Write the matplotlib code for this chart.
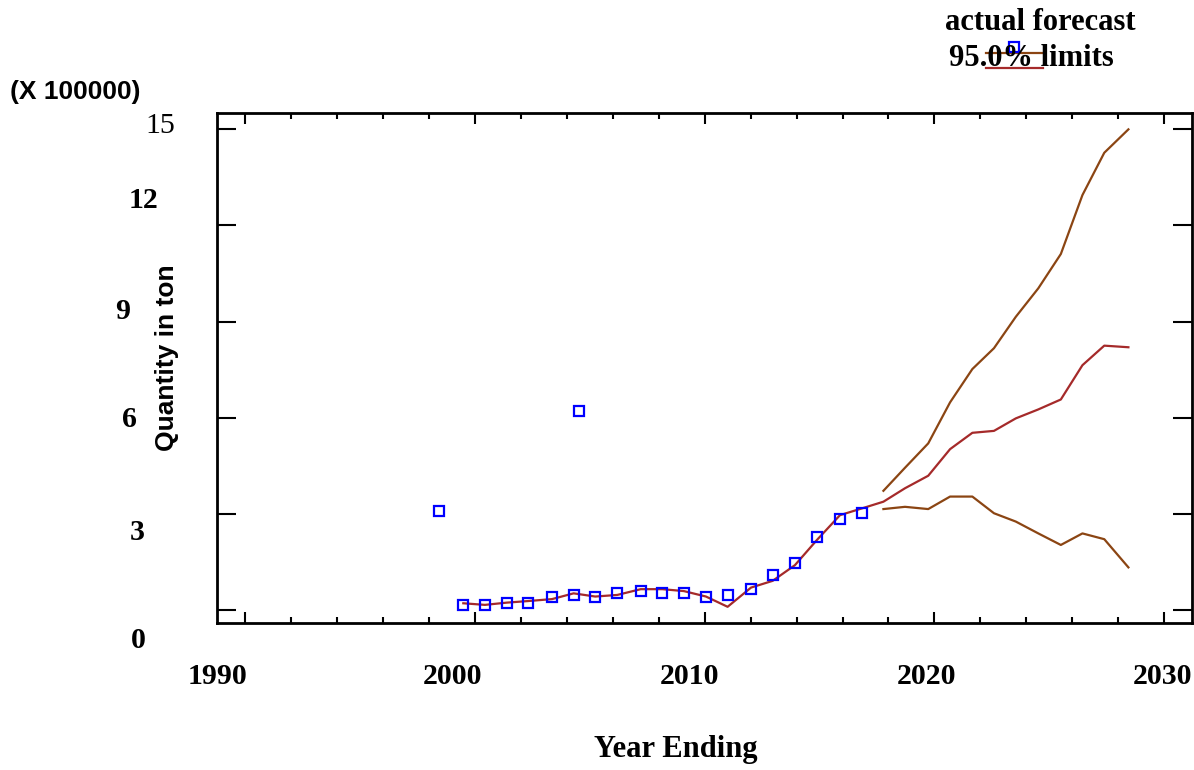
import matplotlib
matplotlib.use("Agg")
import matplotlib.pyplot as plt
from matplotlib.lines import Line2D
from matplotlib.ticker import MultipleLocator

# ---- data (units of 100000 ton) ----
hist_years = [1999.50, 2000.44, 2001.39, 2002.33, 2003.36, 2004.30, 2005.24, 2006.20,
              2007.22, 2008.16, 2009.10, 2010.06, 2011.00, 2012.02, 2012.96, 2013.93,
              2014.88, 2015.89, 2016.84]
actual = [0.16, 0.16, 0.21, 0.21, 0.42, 0.47, 0.42, 0.52, 0.59, 0.54, 0.54, 0.42,
          0.47, 0.66, 1.09, 1.46, 2.29, 2.85, 3.04]
fitted = [0.21, 0.16, 0.23, 0.28, 0.34, 0.52, 0.42, 0.47, 0.65, 0.65, 0.59, 0.42,
          0.10, 0.70, 0.91, 1.40, 2.18, 2.96, 3.17]
extra_years = [1998.44, 2004.53]
extra_actual = [3.10, 6.22]

fc_years = [2017.78, 2018.72, 2019.73, 2020.68, 2021.65, 2022.59, 2023.54, 2024.52,
            2025.50, 2026.44, 2027.39, 2028.44]
forecast = [3.38, 3.80, 4.19, 5.02, 5.53, 5.59, 5.98, 6.26, 6.57, 7.64, 8.25, 8.20]
upper = [3.72, 4.44, 5.20, 6.48, 7.52, 8.17, 9.15, 10.04, 11.11, 12.95, 14.27, 15.00]
lower = [3.15, 3.22, 3.15, 3.54, 3.54, 3.02, 2.76, 2.39, 2.03, 2.39, 2.21, 1.33]

x_tick_labels = ["1990", "2000", "2010", "2020", "2030"]
y_tick_labels = ["15", "12", "9", "6", "3", "0"]

BLUE = "#0000ff"
RED = "#a52a2a"
BROWN = "#8b4513"
SERIF = "Liberation Serif"
SANS = "Liberation Sans"

W, H = 1194, 770
fig = plt.figure(figsize=(W / 100, H / 100), dpi=100)
ax = fig.add_axes([216.7 / W, 1 - 623.3 / H, (1192.3 - 216.7) / W, (623.3 - 112.7) / H])

ax.plot(hist_years + fc_years, fitted + forecast, color=RED, lw=1.6, zorder=2)
ax.plot(fc_years, upper, color=BROWN, lw=1.6, zorder=2)
ax.plot(fc_years, lower, color=BROWN, lw=1.6, zorder=2)
ax.plot(hist_years + extra_years, actual + extra_actual, ls="none", marker="s",
        ms=7, mfc="none", mec=BLUE, mew=1.6, zorder=3)

ax.set_xlim(1988.77, 2031.22)
ax.set_ylim(-0.415, 15.52)
ax.xaxis.set_major_locator(MultipleLocator(10))
ax.xaxis.set_minor_locator(MultipleLocator(2))
ax.set_yticks([0, 3, 6, 9, 12, 15])
ax.tick_params(axis="x", which="major", direction="in", length=8, width=1.5,
               top=True, bottom=True, labelbottom=False)
ax.tick_params(axis="x", which="minor", direction="in", length=4, width=1.5,
               top=True, bottom=True)
ax.tick_params(axis="y", which="major", direction="in", length=14, width=1.5,
               left=True, right=True, labelleft=False)
for s in ax.spines.values():
    s.set_linewidth(2.0)


def fpos(px, py):
    return px / W, 1 - py / H


# x tick labels (positions as drawn in the reference)
for lab, cx in zip(x_tick_labels, [217, 453, 690, 926, 1163]):
    fig.text(*fpos(cx, 677), lab, ha="center", va="center", family=SERIF,
             fontsize=21.5, fontweight="bold")

# y tick labels
y_lab_pos = [(175, 126), (158, 200), (130, 311), (137, 420), (145, 532), (146, 640)]
for lab, (rx, cy) in zip(y_tick_labels, y_lab_pos):
    fig.text(*fpos(rx, cy), lab, ha="right", va="center", family=SERIF,
             fontsize=21.5, fontweight="normal" if lab == "15" else "bold")

fig.text(*fpos(676, 750), "Year Ending", ha="center", va="center", family=SERIF,
         fontsize=22, fontweight="bold")
fig.text(*fpos(167, 358), "Quantity in ton", ha="center", va="center", family=SANS,
         fontsize=19, fontweight="bold", rotation=90)
fig.text(*fpos(10, 92), "(X 100000)", ha="left", va="center", family=SANS,
         fontsize=19, fontweight="bold")

# legend
fig.text(*fpos(1040, 22), "actual forecast", ha="center", va="center", family=SERIF,
         fontsize=22, fontweight="bold")
fig.text(*fpos(1031, 58), "95.0% limits", ha="center", va="center", family=SERIF,
         fontsize=22, fontweight="bold")
for yy, col in [(53.3, BROWN), (68.3, RED)]:
    x0, y0 = fpos(986, yy)
    x1, _ = fpos(1043, yy)
    fig.add_artist(Line2D([x0, x1], [y0, y0], color=col, lw=1.6,
                          transform=fig.transFigure))
sx, sy = fpos(1014.3, 46.7)
fig.add_artist(Line2D([sx], [sy], ls="none", marker="s", ms=7, mfc="none",
                      mec=BLUE, mew=1.6, transform=fig.transFigure))

fig.savefig("out.png", dpi=100)
